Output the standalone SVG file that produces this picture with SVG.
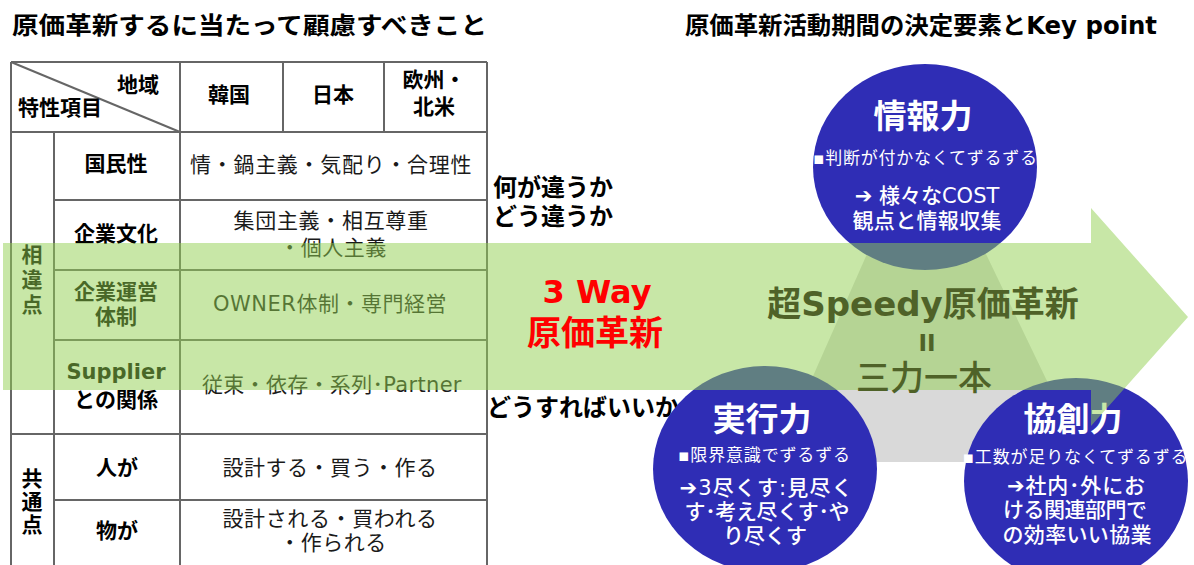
<svg xmlns="http://www.w3.org/2000/svg" width="1194" height="565" viewBox="0 0 1194 565">
<style>
text { font-family: "DejaVu Sans", "Noto Sans CJK JP", sans-serif; dominant-baseline: central; }
.t { font-size: 24px; font-weight: bold; fill: #000; }
.h { font-size: 21px; font-weight: bold; fill: #000; text-anchor: middle; }
.v { font-size: 21px; fill: #1a1a1a; text-anchor: middle; letter-spacing: 0.5px; }
.grid line { stroke: #666; stroke-width: 2; }
.q { font-size: 24px; font-weight: bold; fill: #000; }
.red { font-weight: bold; fill: #ff0000; text-anchor: middle; }
.olive { fill: #4f6228; text-anchor: middle; }
.ct { font-size: 33px; font-weight: bold; fill: #fff; text-anchor: middle; }
.cb { font-size: 17px; fill: #fff; text-anchor: middle; }
.cl { font-size: 21px; font-weight: 500; fill: #fff; text-anchor: middle; }
.circ { fill: #2f2db5; }
</style>

<g id="titles">
<text class="t" x="12" y="26" textLength="475" lengthAdjust="spacingAndGlyphs">原価革新するに当たって顧慮すべきこと</text>
<text class="t" x="685" y="26" textLength="472" lengthAdjust="spacingAndGlyphs">原価革新活動期間の決定要素とKey point</text>
</g>

<g id="table">
<g class="grid">
<line x1="11" y1="62" x2="487" y2="62"/>
<line x1="11" y1="62" x2="11" y2="565"/>
<line x1="487" y1="62" x2="487" y2="565"/>
<line x1="11" y1="132" x2="487" y2="132"/>
<line x1="180" y1="62" x2="180" y2="565"/>
<line x1="283" y1="62" x2="283" y2="132"/>
<line x1="384" y1="62" x2="384" y2="132"/>
<line x1="54" y1="132" x2="54" y2="565"/>
<line x1="54" y1="200" x2="487" y2="200"/>
<line x1="54" y1="270" x2="487" y2="270"/>
<line x1="54" y1="340" x2="487" y2="340"/>
<line x1="11" y1="434" x2="487" y2="434"/>
<line x1="54" y1="500" x2="487" y2="500"/>
<line x1="11" y1="62" x2="180" y2="132" stroke-width="1.5"/>
</g>
<text class="h" x="138" y="85">地域</text>
<text class="h" x="60" y="108">特性項目</text>
<text class="h" x="229" y="95">韓国</text>
<text class="h" x="333" y="95">日本</text>
<text class="h" x="434" y="80">欧州・</text>
<text class="h" x="434" y="107">北米</text>

<text class="h" x="32" y="255">相</text>
<text class="h" x="32" y="280">違</text>
<text class="h" x="32" y="305">点</text>
<text class="h" x="32" y="479">共</text>
<text class="h" x="32" y="502">通</text>
<text class="h" x="32" y="525">点</text>

<text class="h" x="116" y="164">国民性</text>
<text class="v" x="331" y="165" textLength="282" lengthAdjust="spacing">情・鍋主義・気配り・合理性</text>
<text class="h" x="116" y="234">企業文化</text>
<text class="v" x="331" y="221" textLength="195" lengthAdjust="spacing">集団主義・相互尊重</text>
<text class="v" x="333" y="248">・個人主義</text>
<text class="h" x="116" y="292">企業運営</text>
<text class="h" x="116" y="317">体制</text>
<text class="v" x="330" y="304" textLength="234" lengthAdjust="spacing">OWNER体制・専門経営</text>
<text class="h" x="116" y="372">Supplier</text>
<text class="h" x="116" y="400">との関係</text>
<text class="v" x="332" y="385" textLength="260" lengthAdjust="spacing">従束・依存・系列･Partner</text>
<text class="h" x="117" y="468">人が</text>
<text class="v" x="330" y="468" textLength="215" lengthAdjust="spacing">設計する・買う・作る</text>
<text class="h" x="117" y="531">物が</text>
<text class="v" x="330" y="519" textLength="215" lengthAdjust="spacing">設計される・買われる</text>
<text class="v" x="333" y="543">・作られる</text>
</g>

<g id="questions">
<text class="q" x="493" y="188">何が違うか</text>
<text class="q" x="493" y="217">どう違うか</text>
<text class="q" x="487" y="408">どうすればいいか</text>
</g>

<g id="triangle">
<polygon points="924,125 775,462 1086,462" fill="#d9d9d9"/>
</g>

<g id="node-joho">
<ellipse class="circ" cx="925" cy="167" rx="112" ry="103"/>
<text class="ct" x="923" y="116">情報力</text>
<text class="cb" x="925" y="158" textLength="224" lengthAdjust="spacing">▪判断が付かなくてずるずる</text>
<text class="cl" x="927" y="196"><tspan font-weight="bold">➔</tspan> 様々なCOST</text>
<text class="cl" x="927" y="221" textLength="149" lengthAdjust="spacing">観点と情報収集</text>
</g>

<g id="node-jikko">
<ellipse class="circ" cx="765" cy="469" rx="112" ry="103"/>
<text class="ct" x="762" y="419">実行力</text>
<text class="cb" x="764" y="455" textLength="172" lengthAdjust="spacing">▪限界意識でずるずる</text>
<text class="cl" x="766" y="488" textLength="173" lengthAdjust="spacing"><tspan font-weight="bold">➔</tspan>3尽くす:見尽く</text>
<text class="cl" x="767" y="512" textLength="165" lengthAdjust="spacing">す･考え尽くす･や</text>
<text class="cl" x="765" y="536">り尽くす</text>
</g>

<g id="node-kyoso">
<ellipse class="circ" cx="1076" cy="481" rx="112" ry="103"/>
<text class="ct" x="1073" y="419">協創力</text>
<text class="cb" x="1075" y="457" textLength="225" lengthAdjust="spacing">▪工数が足りなくてずるずる</text>
<text class="cl" x="1076" y="486" textLength="138" lengthAdjust="spacing"><tspan font-weight="bold">➔</tspan>社内･外にお</text>
<text class="cl" x="1075" y="510" textLength="144" lengthAdjust="spacing">ける関連部門で</text>
<text class="cl" x="1077" y="535" textLength="149" lengthAdjust="spacing">の効率いい協業</text>
</g>

<g id="connectors">
<path d="M3,243 H1091 V208 L1188,317 L1091,426 V390 H3 Z" fill="#92d050" fill-opacity="0.5"/>
<text class="red" x="597" y="292" font-size="32">3 Way</text>
<text class="red" x="595" y="333" font-size="34">原価革新</text>
<text class="olive" x="923" y="304" font-size="34" font-weight="bold">超Speedy原価革新</text>
<text class="olive" x="927" y="343" font-size="23" font-weight="bold">II</text>
<text class="olive" x="924" y="378" font-size="34" font-weight="500">三力一本</text>
</g>
</svg>
